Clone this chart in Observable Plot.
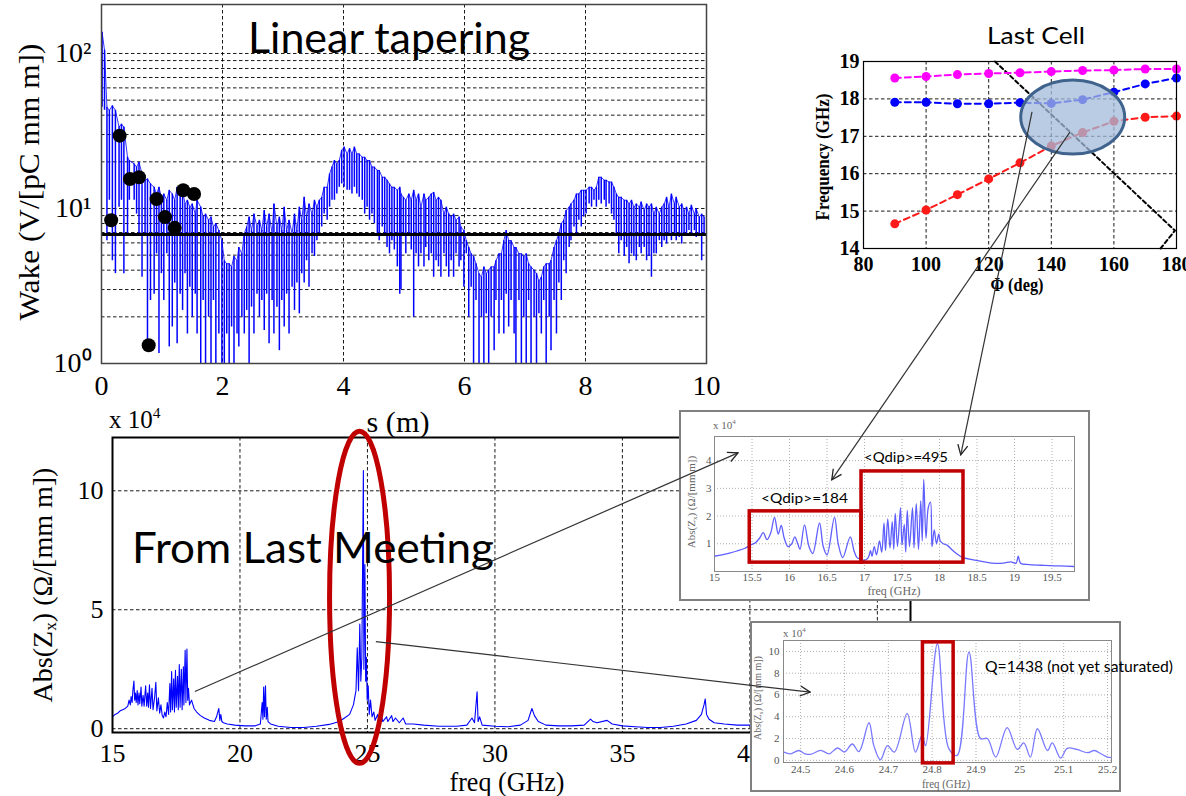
<!DOCTYPE html>
<html><head><meta charset="utf-8"><title>Wake and impedance – linear tapering</title>
<script src="https://cdn.jsdelivr.net/npm/d3@7"></script>
<script src="https://cdn.jsdelivr.net/npm/@observablehq/plot@0.6"></script>
<style>
html,body{margin:0;padding:0;background:#fff;}
#page{position:relative;width:1186px;height:796px;overflow:hidden;background:#fff;}
.panel{position:absolute;}
.panel svg{display:block;max-width:none !important;overflow:visible;}
#pA svg text{font-family:'Liberation Serif','Times New Roman',serif;font-size:28px;fill:#000;}
#pB svg text{font-family:'Liberation Serif','Times New Roman',serif;font-size:26px;fill:#000;}
#pC svg text{font-family:'Liberation Serif','Times New Roman',serif;font-size:20px;font-weight:bold;fill:#000;}
#pD svg text,#pE svg text{font-family:'Liberation Serif','Times New Roman',serif;font-size:11px;fill:#555;}
</style></head><body><div id="page"></div>
<script>
// ================= DATA =================
// --- Wake potential vs s (top-left), spike envelope (upper / lower) ---
const wakeS = [
0.01,0.05,0.09,0.13,0.18,0.23,0.29,0.33,0.37,0.43,
0.46,0.54,0.58,0.62,0.67,0.72,0.76,0.81,0.87,0.91,
0.95,0.99,1.03,1.08,1.12,1.17,1.21,1.25,1.30,1.34,
1.38,1.42,1.46,1.50,1.55,1.58,1.64,1.68,1.72,1.77,
1.81,1.85,1.89,1.94,1.99,2.03,2.07,2.11,2.15,2.19,
2.24,2.27,2.32,2.36,2.40,2.44,2.48,2.52,2.57,2.61,
2.65,2.69,2.73,2.77,2.82,2.85,2.90,2.94,2.98,3.02,
3.06,3.10,3.15,3.19,3.23,3.27,3.31,3.35,3.39,3.43,
3.48,3.52,3.56,3.60,3.64,3.68,3.73,3.77,3.81,3.85,
3.89,3.93,3.97,4.01,4.06,4.10,4.14,4.18,4.22,4.26,
4.31,4.35,4.39,4.43,4.47,4.51,4.56,4.59,4.64,4.68,
4.72,4.76,4.80,4.84,4.89,4.93,
4.95,4.99,5.03,5.08,5.12,5.16,5.20,5.24,5.28,5.33,
5.36,5.41,5.45,5.49,5.53,5.57,5.61,5.66,5.70,5.74,
5.78,5.82,5.86,5.91,5.94,5.99,6.03,6.07,6.11,6.15,
6.19,6.24,6.28,6.32,6.36,6.40,6.44,6.49,6.52,6.57,
6.61,6.65,6.69,6.73,6.77,6.82,6.85,6.90,6.94,6.98,
7.02,7.06,7.10,7.15,7.19,7.23,7.27,7.31,7.35,7.40,
7.43,7.48,7.52,7.56,7.60,7.64,7.68,7.73,7.76,7.81,
7.85,7.89,7.93,7.97,8.01,8.06,8.10,8.14,8.18,8.22,
8.26,8.31,8.34,8.39,8.43,8.47,8.51,8.55,8.59,8.64,
8.68,8.72,8.76,8.80,8.84,8.89,8.92,8.97,9.01,9.05,
9.09,9.13,9.17,9.22,9.26,9.30,9.34,9.38,9.42,9.47,
9.50,9.55,9.59,9.63,9.67,9.71,9.75,9.80,9.83,9.88,
9.92,9.96];
const wakeHi = [
137,105,45,43,46,43,33.5,35,33.5,21.4,
20.4,19.4,18.5,19.9,16.7,15.2,15.5,14.4,13.7,12.4,
13.7,11.8,12.4,11.3,13.1,12.4,11.3,13.7,11.8,13.1,
10.7,11.3,10.2,10.7,9.2,11.3,10.2,8.8,9.2,8.4,
8.8,7.6,8.0,7.2,6.2,4.6,4.4,4.4,4.2,4.9,
4.6,5.6,5.1,6.9,7.6,8.8,7.2,9.2,7.6,8.4,
7.2,9.7,7.6,9.2,6.9,10.7,7.6,8.8,7.2,10.2,
7.2,8.4,6.9,9.2,7.2,10.2,8.4,11.8,8.8,10.7,
9.2,11.3,10.2,11.3,11.8,13.7,13.7,16.7,18.5,20.4,
19.4,20.4,23.7,24.9,22.5,24.3,22.5,24.9,22.5,22.5,
21.4,21.4,20.4,20.4,18.5,18.5,17.6,17.6,15.9,15.9,
15.2,14.4,13.7,13.7,13.1,13.7,
12.4,11.8,11.3,12.4,11.3,13.1,11.3,12.4,10.2,12.4,
11.3,11.8,12.4,12.7,11.3,11.8,11.3,9.2,10.2,9.2,
8.8,9.2,8.4,8.8,7.6,7.2,6.2,5.6,5.1,4.9,
4.4,3.8,3.6,4.2,3.8,4.0,4.2,4.2,4.6,5.1,
5.1,6.2,7.2,6.2,6.2,5.6,5.6,5.1,5.1,4.9,
5.1,4.4,4.2,4.0,3.8,3.4,3.6,4.2,4.4,4.4,
4.6,5.6,6.2,6.9,8.0,8.4,9.7,10.2,10.7,11.3,
12.4,12.4,13.1,13.1,13.1,13.7,13.7,13.1,13.7,15.9,
15.9,15.2,15.2,14.8,14.8,13.7,12.4,11.8,11.8,11.3,
11.3,10.7,11.3,10.2,10.7,10.2,11.0,9.7,10.7,10.2,
10.7,9.2,10.2,9.2,10.2,10.7,11.8,10.2,12.4,10.7,
11.8,10.2,10.7,9.7,10.2,9.2,10.5,9.2,9.95,8.8,
9.2,8.8];
const wakeLo = [
45,43,6.2,11.3,4.6,3.8,10.2,11.3,3.8,6.9,
11.3,11.3,9.2,6.9,3.6,6.9,1.28,2.55,2.8,5.1,
1.16,3.8,2.55,5.1,1.28,1.72,3.3,1.34,2.8,2.2,
3.8,1.55,3.1,1.99,2.8,1.55,0.5,2.55,0.5,1.99,
0.5,2.55,0.5,1.55,0.5,0.5,1.55,0.5,1.72,0.5,
1.55,1.28,1.99,1.55,2.2,0.5,2.31,1.55,2.8,1.99,
2.55,1.63,2.8,1.34,2.55,1.55,2.31,1.21,2.55,1.72,
2.8,1.55,3.1,2.2,3.3,2.09,3.8,3.3,4.6,3.1,
5.1,4.9,6.2,6.9,7.6,9.2,8.4,10.2,11.3,11.3,
12.4,13.7,14.4,13.7,13.1,13.1,12.4,13.7,12.4,11.8,
11.3,9.2,10.2,8.4,9.2,8.0,6.9,6.2,7.6,6.9,
5.6,5.1,6.2,5.4,4.2,2.8,
3.0,6.9,5.1,6.9,5.4,1.99,5.1,4.2,5.1,4.2,
5.6,4.6,5.1,3.6,4.6,4.2,3.6,5.1,4.2,3.6,
4.6,3.6,5.1,4.2,4.6,3.1,5.1,1.99,3.1,0.5,
2.55,0.5,1.99,0.5,2.09,0.5,1.99,1.21,2.55,1.55,
2.55,1.55,2.8,1.72,2.55,1.55,0.5,2.55,0.5,1.99,
0.5,2.55,0.5,1.99,0.5,2.09,1.55,2.55,0.5,1.99,
1.21,2.55,1.55,3.3,2.55,4.6,3.8,5.6,6.2,7.6,
6.9,8.4,7.6,8.8,9.2,10.7,10.2,11.3,10.2,11.3,
10.7,11.3,10.2,10.7,9.2,8.4,6.9,5.1,6.2,4.9,
5.6,4.4,5.1,4.9,4.6,5.6,5.1,5.6,4.6,4.9,
3.6,5.1,5.1,6.2,5.6,6.2,5.9,6.9,6.2,6.9,
6.2,6.5,5.9,6.9,6.9,7.2,6.9,7.2,6.5,6.9,
4.6,6.9];
const wakeLevel = 6.8;
const wakeDotS = [0.16,0.30,0.47,0.62,0.91,1.05,1.21,1.35,1.53,0.78];
const wakeDotV = [8.4,29.5,15.5,15.9,11.5,8.8,7.5,13.1,12.4,1.31];
const wakeXTicks = [0,2,4,6,8,10];
const wakeYTicks = [1,10,100];
const wakeGridX = [2,4,6,8];
const wakeGridY = [2,3,4,5,6,7,8,9,10,20,30,40,50,60,70,80,90,100];

// --- Abs(Zx) vs frequency (bottom-left), units 1e4 Ohm/[mm m] ---
const zFreq = [15.0,15.1,15.2,15.3,15.4,15.5,15.6,15.65,15.7,15.73,15.77,15.8,15.84,15.87,15.9,15.93,15.97,16.0,16.04,16.07,
16.12,16.15,16.2,16.24,16.3,16.34,16.38,16.41,16.45,16.49,16.55,16.59,16.65,16.7,16.74,16.8,16.85,16.9,16.95,17.0,
17.05,17.1,17.15,17.2,17.25,17.28,17.32,17.35,17.4,17.43,17.47,17.5,17.55,17.58,17.62,17.65,17.7,17.73,17.78,17.8,
17.85,17.88,17.92,17.95,17.98,18.02,18.1,18.2,18.3,18.45,18.6,18.8,19.0,19.08,19.17,19.21,19.25,19.29,19.35,19.5,
19.8,20.2,20.6,20.8,20.87,20.9,20.93,20.96,21.0,21.03,21.07,21.1,21.2,21.5,22.0,22.5,23.0,23.5,23.9,24.1,
24.3,24.45,24.55,24.6,24.65,24.7,24.74,24.78,24.84,24.86,24.9,24.93,24.96,24.99,25.03,25.07,25.12,25.18,25.25,25.3,
25.4,25.45,25.55,25.6,25.75,25.8,25.95,26.0,26.1,26.25,26.4,26.5,26.8,27.2,27.8,28.5,28.9,29.1,29.2,29.3,
29.34,29.4,29.5,30.0,30.5,31.0,31.3,31.45,31.55,31.7,32.0,32.5,33.0,33.5,33.75,33.85,34.0,34.4,34.6,35.0,
35.5,36.0,36.5,37.0,37.5,37.9,38.1,38.2,38.25,38.3,38.4,38.6,39.0,39.5,40.0,41.0,43.0,46.0];
const zVal = [0.5,0.6,0.65,0.75,0.8,0.85,0.95,1.2,1.0,1.35,1.1,1.6,2.0,1.2,1.5,1.1,1.6,1.0,1.5,1.05,
1.75,0.95,1.4,0.95,1.8,0.95,1.5,0.9,1.85,0.85,1.7,0.8,1.3,1.95,0.75,1.3,0.65,1.0,0.55,0.45,
0.7,0.5,1.1,0.6,1.9,0.7,2.4,0.8,2.1,0.7,2.45,0.9,2.2,0.8,2.7,0.9,2.5,0.8,2.6,1.0,
3.3,1.1,3.35,1.2,1.7,1.0,1.2,0.85,0.7,0.55,0.45,0.35,0.3,0.5,0.85,0.35,0.6,0.3,0.25,0.2,
0.15,0.12,0.12,0.2,1.1,0.4,1.75,0.5,1.8,0.4,0.9,0.3,0.2,0.1,0.05,0.05,0.1,0.18,0.3,0.45,
0.6,1.0,1.6,3.4,1.6,4.4,2.0,3.0,10.85,2.5,6.9,2.0,3.0,1.2,1.8,0.6,1.2,0.5,0.7,0.35,
0.6,0.3,0.55,0.3,0.5,0.3,0.55,0.3,0.45,0.25,0.45,0.2,0.2,0.15,0.1,0.1,0.15,0.45,0.25,1.55,
0.3,0.5,0.15,0.1,0.08,0.15,0.35,0.85,0.55,0.3,0.15,0.12,0.12,0.15,0.4,0.3,0.25,0.35,0.2,0.12,
0.08,0.05,0.05,0.1,0.2,0.35,0.6,1.0,1.25,0.6,0.4,0.25,0.2,0.15,0.15,0.1,0.1,0.1];
const zXTicks = [15,20,25,30,35,40];
const zYTicks = [0,5,10];
const zGridX = [20,25,30,35,40,45];
const zGridY = [0,5,10];

// --- Dispersion, last cell (top-right) ---
const phiDeg = [90,100,110,120,130,140,150,160,170,180];
const modeMagenta = [18.56,18.6,18.65,18.68,18.7,18.73,18.76,18.77,18.8,18.8];
const modeBlue = [17.91,17.91,17.87,17.87,17.9,17.88,17.98,18.18,18.4,18.56];
const modeRed = [14.66,15.03,15.44,15.86,16.29,16.74,17.1,17.4,17.51,17.54];
const lightPhi = [122,179.5,174.9];
const lightF = [19,14.48,14.0];
const dispXTicks = [80,100,120,140,160,180];
const dispYTicks = [14,15,16,17,18,19];

// --- Zoom inset 1: 15 - 19.8 GHz ---
const insAFreq = [15.0,15.1,15.2,15.3,15.4,15.48,15.55,15.6,15.65,15.7,15.75,15.8,15.85,15.89,15.93,15.98,16.03,16.07,16.11,16.14,
16.2,16.26,16.31,16.4,16.45,16.5,16.6,16.65,16.71,16.81,16.86,16.9,16.95,17.0,17.05,17.08,17.1,17.13,17.16,17.2,
17.23,17.26,17.28,17.31,17.34,17.37,17.39,17.41,17.44,17.48,17.5,17.53,17.55,17.57,17.6,17.64,17.66,17.69,17.72,17.75,
17.77,17.79,17.82,17.85,17.88,17.9,17.93,17.96,17.99,18.01,18.05,18.1,18.2,18.3,18.45,18.6,18.7,18.85,18.95,19.02,
19.05,19.08,19.2,19.4,19.6,19.8];
const insAVal = [0.55,0.6,0.66,0.74,0.83,0.95,1.05,1.2,1.4,1.15,1.4,1.95,1.35,1.66,1.2,0.9,1.0,1.25,1.0,0.8,
1.68,0.9,0.65,1.75,0.9,0.6,1.95,1.0,0.5,1.25,0.75,0.5,0.45,0.4,0.5,0.75,0.55,0.9,0.6,1.1,
0.7,1.75,0.75,1.9,0.85,1.8,0.8,2.1,0.9,2.3,0.95,1.7,0.7,2.2,0.9,2.3,0.85,2.45,0.8,2.55,
1.1,3.32,1.2,2.3,2.5,0.9,1.5,1.0,1.35,1.1,1.0,0.95,0.7,0.52,0.42,0.35,0.3,0.3,0.35,0.3,
0.55,0.3,0.25,0.22,0.2,0.18];
const insAXTicks = [15,15.5,16,16.5,17,17.5,18,18.5,19,19.5];
const insAYTicks = [1,2,3,4];

// --- Zoom inset 2: 24.46 - 25.21 GHz ---
const insBFreq = [24.462,24.477,24.496,24.51,24.523,24.546,24.565,24.584,24.6,24.618,24.633,24.656,24.667,24.682,24.698,24.714,24.743,24.762,24.777,24.785,
24.812,24.838,24.857,24.884,24.91,24.926,24.945,24.971,24.994,25.009,25.024,25.04,25.063,25.074,25.093,25.108,25.13,25.154,25.17,25.185,25.2,25.209];
const insBVal = [0.76,0.6,0.9,0.6,0.55,0.91,0.6,1.13,0.76,1.5,0.8,3.45,1.35,0.05,1.35,0.76,4.28,0.76,2.3,1.35,
10.7,1.07,0.46,9.94,2.0,2.0,0.3,3.0,1.0,1.6,0.3,2.9,0.9,1.6,0.2,1.1,1.0,0.7,0.9,0.6,0.3,0.25];
const insBXTicks = [24.5,24.6,24.7,24.8,24.9,25,25.1,25.2];
const insBYTicks = [0,2,4,6,8,10];

// --- annotation anchors (data coordinates of each panel) ---
const qBoxLow = {x1: 15.47, x2: 16.96, y1: 0.32, y2: 2.17};
const qBoxHigh = {x1: 16.96, x2: 18.32, y1: 0.32, y2: 3.61};
const qBoxPeak = {x1: 24.779, x2: 24.849, y1: -0.28, y2: 10.83};

// ================= LAYOUT =================
const SERIF = "'Liberation Serif','Times New Roman',serif";
const SANS = "Lato,'Open Sans',sans-serif";
const PA = {left: 0, top: 0, w: 720, h: 400};
const PB = {left: 0, top: 400, w: 930, h: 396};
const PC = {left: 780, top: 0, w: 406, h: 300};
const PD = {left: 679, top: 410, w: 411, h: 191};
const PE = {left: 750, top: 621, w: 371, h: 171};
const page = document.getElementById("page");
const dash = "3.5,2.5";

function place(plot, P, id, z) {
  const div = document.createElement("div");
  div.className = "panel"; div.id = id;
  Object.assign(div.style, {left: P.left + "px", top: P.top + "px", width: P.w + "px", height: P.h + "px", zIndex: z});
  div.appendChild(plot);
  page.appendChild(div);
}
function sfn(plot, name) {
  const s = plot.scale(name);
  if (s && typeof s.apply === "function") return v => s.apply(v);
  const base = s.type === "log" ? d3.scaleLog() : d3.scaleLinear();
  return base.domain(s.domain).range(s.range);
}
function pt(P, plot, x, y) { return [P.left + sfn(plot, "x")(x), P.top + sfn(plot, "y")(y)]; }

// ---- Panel A: wake ----
const nW = Math.min(wakeS.length, wakeHi.length, wakeLo.length);
const wakeRows = [];
for (let i = 0; i < nW; i++) wakeRows.push({s: wakeS[i], hi: wakeHi[i], lo: wakeLo[i]});
const wakeDots = wakeDotS.map((s, i) => ({s, v: wakeDotV[i]}));
const supD = {"0": "⁰", "1": "¹", "2": "²"};
const plotA = Plot.plot({
  width: PA.w, height: PA.h, marginLeft: 101, marginRight: 14, marginTop: 4, marginBottom: 37,
  style: {background: "transparent", overflow: "visible"},
  x: {domain: [0, 10], ticks: wakeXTicks, tickFormat: d => String(d), tickSize: 0, tickPadding: 12, label: null},
  y: {type: "log", domain: [1, 207], ticks: wakeYTicks, tickFormat: d => "10" + supD[String(Math.round(Math.log10(d)))], tickSize: 0, tickPadding: 10, label: null},
  marks: [
    Plot.ruleY(wakeGridY, {stroke: "#000", strokeWidth: 0.9, strokeDasharray: dash}),
    Plot.ruleX(wakeGridX, {stroke: "#000", strokeWidth: 0.9, strokeDasharray: dash}),
    Plot.ruleX(wakeRows, {x: "s", y1: "lo", y2: "hi", stroke: "#0000ff", strokeWidth: 1.5, clip: true}),
    Plot.line(wakeRows, {x: "s", y: "hi", stroke: "#0000ff", strokeWidth: 0.8, clip: true}),
    Plot.ruleY([wakeLevel], {stroke: "#000", strokeWidth: 3}),
    Plot.dot(wakeDots, {x: "s", y: "v", r: 7, fill: "#000", stroke: "none"}),
    Plot.frame({stroke: "#444", strokeWidth: 1.5})
  ]
});
place(plotA, PA, "pA", 1);

// ---- Panel B: impedance ----
const zRows = zFreq.map((f, i) => ({f, v: zVal[i]}));
const plotB = Plot.plot({
  width: PB.w, height: PB.h, marginLeft: 112, marginRight: 20, marginTop: 37, marginBottom: 64,
  style: {background: "transparent", overflow: "visible"},
  x: {domain: [15, 46.3], ticks: zXTicks, tickFormat: d => String(d), tickSize: 0, tickPadding: 11, label: null},
  y: {domain: [-0.16, 12.24], ticks: zYTicks, tickFormat: d => String(d), tickSize: 0, tickPadding: 9, label: null},
  marks: [
    Plot.ruleX(zGridX, {stroke: "#000", strokeWidth: 0.9, strokeDasharray: dash}),
    Plot.ruleY(zGridY, {stroke: "#000", strokeWidth: 0.9, strokeDasharray: dash}),
    Plot.line(zRows, {x: "f", y: "v", stroke: "#0000ff", strokeWidth: 1.1, clip: true}),
    Plot.frame({stroke: "#000", strokeWidth: 2})
  ]
});
place(plotB, PB, "pB", 2);

// ---- Panel C: dispersion ----
const rowsOf = arr => phiDeg.map((p, i) => ({phi: p, f: arr[i]}));
const lightRows = lightPhi.map((p, i) => ({phi: p, f: lightF[i]}));
const modes = [[modeRed, "#ff1a1a"], [modeBlue, "#0000ff"], [modeMagenta, "#ff00ff"]];
const plotC = Plot.plot({
  width: PC.w, height: PC.h, marginLeft: 83, marginRight: 10, marginTop: 61, marginBottom: 52,
  style: {background: "transparent", overflow: "visible"},
  x: {domain: [80, 180], ticks: dispXTicks, tickFormat: d => String(d), tickSize: 0, tickPadding: 8, label: null},
  y: {domain: [14, 19], ticks: dispYTicks, tickFormat: d => String(d), tickSize: 0, tickPadding: 4, label: null},
  marks: [
    Plot.ruleX([100, 120, 140, 160], {stroke: "#000", strokeWidth: 0.9, strokeDasharray: dash}),
    Plot.ruleY([15, 16, 17, 18], {stroke: "#000", strokeWidth: 0.9, strokeDasharray: dash}),
    Plot.line(lightRows, {x: "phi", y: "f", stroke: "#000", strokeWidth: 2, strokeDasharray: "4,3"}),
    ...modes.flatMap(([arr, c]) => [
      Plot.line(rowsOf(arr), {x: "phi", y: "f", stroke: c, strokeWidth: 2, strokeDasharray: "6,4"}),
      Plot.dot(rowsOf(arr), {x: "phi", y: "f", r: 4.5, fill: c, stroke: "none"})
    ]),
    Plot.frame({stroke: "#000", strokeWidth: 1.2})
  ]
});
place(plotC, PC, "pC", 3);

// ---- Panel D: inset 1 ----
const insARows = insAFreq.map((f, i) => ({f, v: insAVal[i]}));
const plotD = Plot.plot({
  width: PD.w, height: PD.h, marginLeft: 35, marginRight: 16, marginTop: 26, marginBottom: 30,
  style: {background: "#fff", overflow: "visible"},
  x: {domain: [15, 19.8], ticks: insAXTicks, tickFormat: d => String(d), tickSize: 0, tickPadding: 2, label: null},
  y: {domain: [0.0, 4.87], ticks: insAYTicks, tickFormat: d => String(d), tickSize: 0, tickPadding: 3, label: null},
  marks: [
    Plot.ruleX(insAXTicks.slice(1), {stroke: "#999", strokeWidth: 0.8, strokeDasharray: "1,2"}),
    Plot.ruleY(insAYTicks, {stroke: "#999", strokeWidth: 0.8, strokeDasharray: "1,2"}),
    Plot.line(insARows, {x: "f", y: "v", stroke: "#5f5fff", strokeWidth: 1.3, curve: "catmull-rom", clip: true}),
    Plot.frame({stroke: "#888", strokeWidth: 1}),
    Plot.rect([qBoxLow, qBoxHigh], {x1: "x1", x2: "x2", y1: "y1", y2: "y2", fill: "none", stroke: "#c00000", strokeWidth: 3.5})
  ]
});
place(plotD, PD, "pD", 4);

// ---- Panel E: inset 2 ----
const insBRows = insBFreq.map((f, i) => ({f, v: insBVal[i]}));
const plotE = Plot.plot({
  width: PE.w, height: PE.h, marginLeft: 33, marginRight: 10, marginTop: 19, marginBottom: 30,
  style: {background: "#fff", overflow: "visible"},
  x: {domain: [24.461, 25.209], ticks: insBXTicks, tickFormat: d => String(+d.toFixed(1)), tickSize: 0, tickPadding: 3, label: null},
  y: {domain: [-0.2, 11], ticks: insBYTicks, tickFormat: d => String(d), tickSize: 0, tickPadding: 4, label: null},
  marks: [
    Plot.ruleX(insBXTicks, {stroke: "#999", strokeWidth: 0.8, strokeDasharray: "1,2"}),
    Plot.ruleY(insBYTicks, {stroke: "#999", strokeWidth: 0.8, strokeDasharray: "1,2"}),
    Plot.line(insBRows, {x: "f", y: "v", stroke: "#7a7aff", strokeWidth: 1.3, curve: "catmull-rom", clip: true}),
    Plot.frame({stroke: "#888", strokeWidth: 1}),
    Plot.rect([qBoxPeak], {x1: "x1", x2: "x2", y1: "y1", y2: "y2", fill: "none", stroke: "#c00000", strokeWidth: 3.5})
  ]
});
place(plotE, PE, "pE", 5);

// ================= OVERLAY (annotations) =================
const NS = "http://www.w3.org/2000/svg";
const ov = document.createElementNS(NS, "svg");
ov.setAttribute("width", 1186); ov.setAttribute("height", 796);
ov.style.cssText = "position:absolute;left:0;top:0;z-index:20;pointer-events:none;overflow:visible";
page.appendChild(ov);
function el(tag, attrs, parent = ov) {
  const e = document.createElementNS(NS, tag);
  for (const k in attrs) e.setAttribute(k, attrs[k]);
  parent.appendChild(e); return e;
}
function txt(x, y, parts, o = {}) {
  const size = o.size || 12;
  const t = el("text", {x, y, "font-family": o.family || SERIF, "font-size": size, "font-weight": o.weight || "normal", fill: o.fill || "#000", "text-anchor": o.anchor || "start"});
  if (o.baseline) t.setAttribute("dominant-baseline", o.baseline);
  if (o.rotate) t.setAttribute("transform", `rotate(${o.rotate} ${x} ${y})`);
  if (o.length) { t.setAttribute("textLength", o.length); t.setAttribute("lengthAdjust", "spacingAndGlyphs"); }
  if (typeof parts === "string") { t.textContent = parts; return t; }
  let shift = 0;
  for (const [s, k] of parts) {
    const ts = el("tspan", {}, t);
    const target = k === "sup" ? -0.42 : k === "sub" ? 0.28 : 0;
    const dy = (target - shift) * size;
    if (dy) ts.setAttribute("dy", dy.toFixed(1));
    if (k) ts.setAttribute("font-size", (size * 0.62).toFixed(1));
    ts.textContent = s; shift = target;
  }
  return t;
}
// inset boxes (figure borders)
el("rect", {x: PD.left + 1, y: PD.top + 1, width: PD.w - 2, height: PD.h - 2, fill: "none", stroke: "#808080", "stroke-width": 2});
el("rect", {x: PE.left + 1, y: PE.top + 1, width: PE.w - 2, height: PE.h - 2, fill: "none", stroke: "#808080", "stroke-width": 2});

// red ellipse around main resonance
const [rcx, rcy] = pt(PB, plotB, 24.71, 5.5);
el("ellipse", {cx: rcx, cy: rcy, rx: 30, ry: 166, fill: "none", stroke: "#c00000", "stroke-width": 5});
// blue ellipse on dispersion
const [bcx, bcy] = pt(PC, plotC, 147, 17.5);
el("ellipse", {cx: bcx, cy: bcy, rx: 52, ry: 37, fill: "#a3bbda", "fill-opacity": 0.75, stroke: "#3f638c", "stroke-width": 3});

// texts
txt(248, 53, "Linear tapering", {family: SANS, size: 42, length: 282});
txt(132, 563, "From Last Meeting", {family: SANS, size: 42, length: 362});
txt(987, 44, "Last Cell", {family: SANS, size: 24, length: 98});
txt(761, 503, "<Qdip>=184", {family: SANS, size: 14, length: 87});
txt(864, 462, "<Qdip>=495", {family: SANS, size: 14, length: 84});
txt(985, 672, "Q=1438 (not yet saturated)", {family: SANS, size: 15, length: 188});

txt(28, 182, "Wake (V/[pC mm m])", {size: 30, anchor: "middle", baseline: "central", rotate: -90, length: 277});
txt(398, 421, "s (m)", {size: 30, anchor: "middle", baseline: "central", length: 63});
txt(109, 428, [["x 10"], ["4", "sup"]], {size: 25});
txt(42, 585, [["Abs(Z"], ["x", "sub"], [") (Ω/[mm m])"]], {size: 28, anchor: "middle", baseline: "central", rotate: -90});
txt(507, 781, "freq (GHz)", {size: 28, anchor: "middle", baseline: "central", length: 115});

txt(823, 157, "Frequency (GHz)", {size: 18, weight: "bold", anchor: "middle", baseline: "central", rotate: -90, length: 127});
txt(1017, 285, "Φ (deg)", {size: 18, weight: "bold", anchor: "middle", baseline: "central", length: 53});

txt(713, 429, [["x 10"], ["4", "sup"]], {size: 11, fill: "#666"});
txt(691, 502, [["Abs(Z"], ["x", "sub"], [") (Ω/[mm m])"]], {size: 11, fill: "#666", anchor: "middle", baseline: "central", rotate: -90});
txt(894, 591, "freq (GHz)", {size: 12, fill: "#666", anchor: "middle", baseline: "central", length: 53});
txt(783, 637, [["x 10"], ["4", "sup"]], {size: 11, fill: "#666"});
txt(757, 698, [["Abs(Z"], ["x", "sub"], [") (Ω/[mm m])"]], {size: 10, fill: "#666", anchor: "middle", baseline: "central", rotate: -90});
txt(946, 784, "freq (GHz)", {size: 12, fill: "#666", anchor: "middle", baseline: "central", length: 48});

// arrows linking panels
const defs = el("defs", {});
const mk = el("marker", {id: "ah", viewBox: "0 0 12 12", refX: 11, refY: 6, markerWidth: 12, markerHeight: 12, orient: "auto", markerUnits: "userSpaceOnUse"}, defs);
el("path", {d: "M1,1 L11,6 L1,11", fill: "none", stroke: "#222", "stroke-width": 1.3}, mk);
const panels = {B: [PB, plotB], C: [PC, plotC], D: [PD, plotD], E: [PE, plotE]};
const arrowLinks = [
  {from: "B", fx: 18.25, fy: 1.54, to: "D", tx: 15.32, ty: 4.26},
  {from: "B", fx: 25.35, fy: 3.64, to: "E", tx: 24.523, ty: 6.21},
  {from: "C", fx: 134.0, fy: 17.64, to: "D", tx: 18.29, ty: 4.19},
  {from: "C", fx: 146.1, fy: 17.1, to: "D", tx: 16.57, ty: 3.29}
];
for (const a of arrowLinks) {
  const [x1, y1] = pt(...panels[a.from], a.fx, a.fy);
  const [x2, y2] = pt(...panels[a.to], a.tx, a.ty);
  el("line", {x1, y1, x2, y2, stroke: "#333", "stroke-width": 1.2, "marker-end": "url(#ah)"});
}
</script>
</body></html>
